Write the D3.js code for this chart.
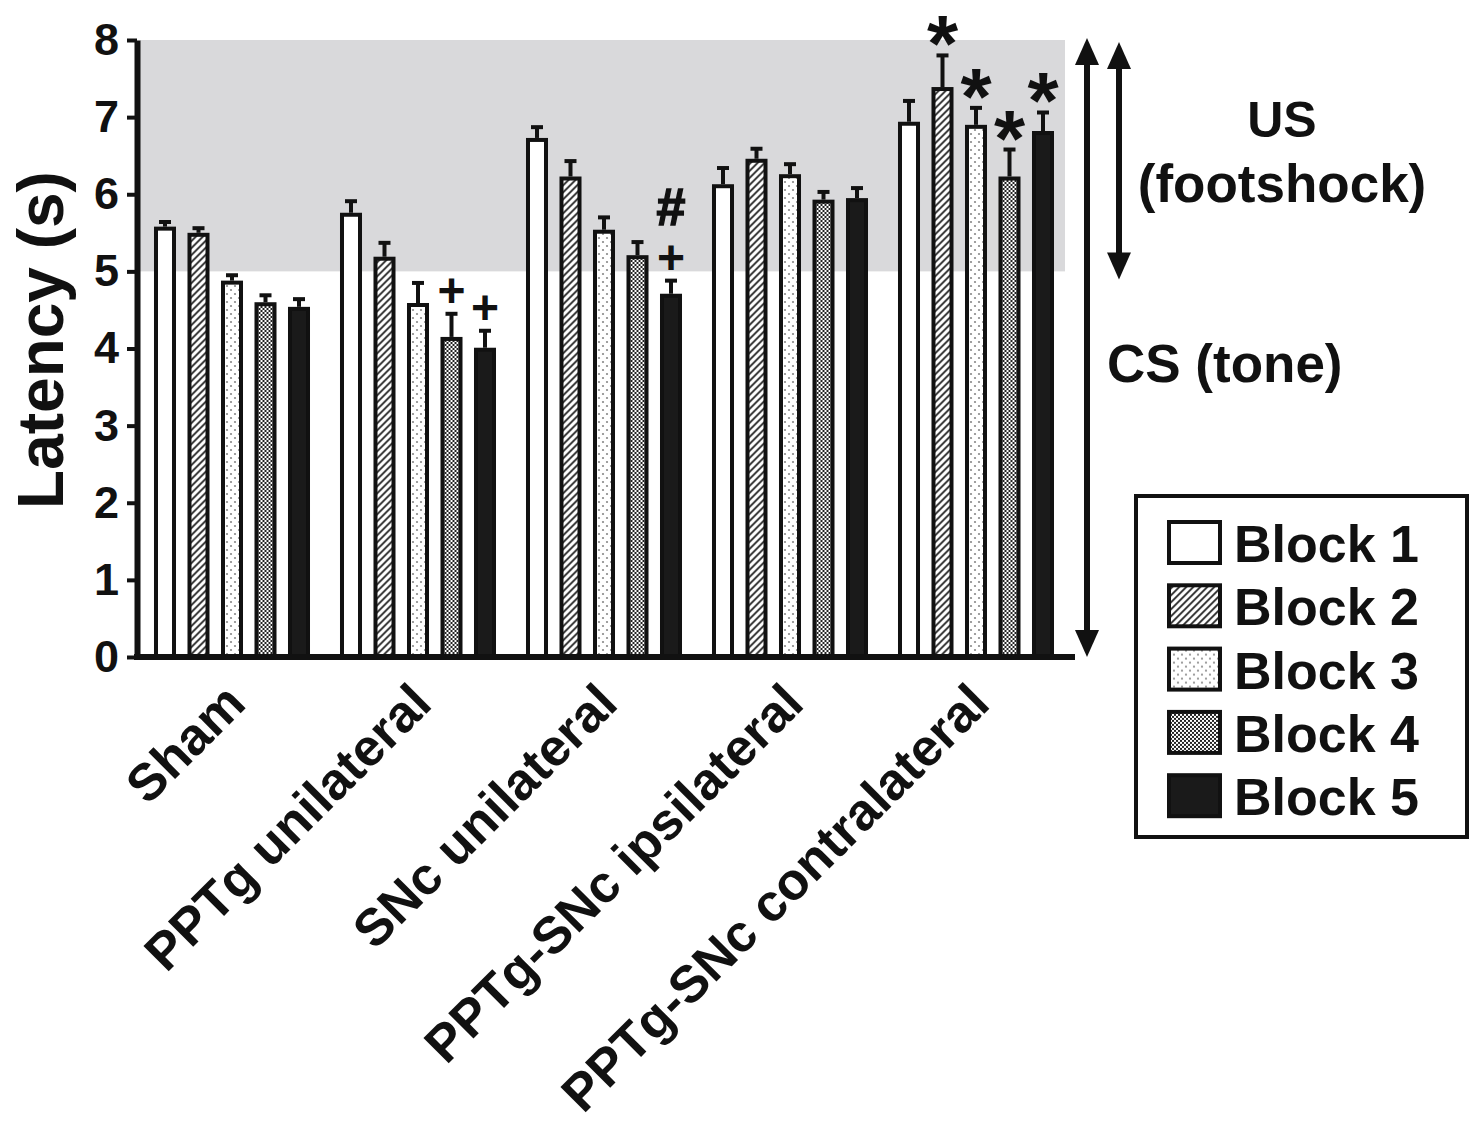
<!DOCTYPE html>
<html>
<head>
<meta charset="utf-8">
<script src="https://cdn.jsdelivr.net/npm/d3@7"></script>
<style>
  body { margin: 0; background: #fff; }
  svg text { font-family: "Liberation Sans", Arial, sans-serif; font-weight: bold; fill: #111; }
</style>
</head>
<body>
<div id="chart"></div>
<script>
// groups and blocks
let groups = ["Sham", "PPTg unilateral", "SNc unilateral", "PPTg-SNc ipsilateral", "PPTg-SNc contralateral"]
let blocks = ["Block 1", "Block 2", "Block 3", "Block 4", "Block 5"]

// mean latency (s) per block, one array per group
let meanSham   = [5.58, 5.50, 4.88, 4.60, 4.54]
let meanPPTg   = [5.76, 5.19, 4.59, 4.15, 4.01]
let meanSNc    = [6.73, 6.23, 5.54, 5.21, 4.71]
let meanIpsi   = [6.13, 6.46, 6.26, 5.93, 5.95]
let meanContra = [6.94, 7.39, 6.90, 6.23, 6.82]

// error (upper whisker)
let errSham   = [0.06, 0.06, 0.07, 0.09, 0.10]
let errPPTg   = [0.15, 0.18, 0.26, 0.30, 0.22]
let errSNc    = [0.14, 0.20, 0.16, 0.17, 0.17]
let errIpsi   = [0.21, 0.13, 0.13, 0.10, 0.13]
let errContra = [0.27, 0.41, 0.22, 0.35, 0.24]

let yTicks = [0, 1, 2, 3, 4, 5, 6, 7, 8]

// significance marks: [group index, block index, symbol, stack level]
let sigMarks = [
  [1, 3, "+", 0], [1, 4, "+", 0],
  [2, 4, "+", 0], [2, 4, "#", 1],
  [4, 1, "*", 0], [4, 2, "*", 0], [4, 3, "*", 0], [4, 4, "*", 0]
]

let means = [meanSham, meanPPTg, meanSNc, meanIpsi, meanContra]
let errs = [errSham, errPPTg, errSNc, errIpsi, errContra]

let rows = []
groups.forEach((g, gi) => {
  blocks.forEach((b, bi) => {
    rows.push({group: g, block: b, bi: bi, value: means[gi][bi], err: errs[gi][bi]})
  })
})

let width = 1471, height = 1125

let svg = d3.select("#chart").append("svg")
    .attr("width", width)
    .attr("height", height)

let y = d3.scaleLinear().domain([0, 8]).range([657, 40])
let x0 = d3.scaleBand().domain(groups).range([139, 1069]).padding(0)
let x1 = d3.scaleBand().domain(blocks).range([9.25, 176.75]).paddingInner(0.343).paddingOuter(0.1715)

// patterns
let defs = svg.append("defs")

let hatch = defs.append("pattern").attr("id", "p2")
    .attr("patternUnits", "userSpaceOnUse").attr("width", 7).attr("height", 7)
hatch.append("rect").attr("width", 7).attr("height", 7).attr("fill", "#fff")
hatch.append("path").attr("d", "M0,7 L7,0 M-2,2 L2,-2 M5,9 L9,5")
    .attr("stroke", "#222").attr("stroke-width", 1.8)

let dots = defs.append("pattern").attr("id", "p3")
    .attr("patternUnits", "userSpaceOnUse").attr("width", 8).attr("height", 8)
dots.append("rect").attr("width", 8).attr("height", 8).attr("fill", "#fff")
dots.append("circle").attr("cx", 2).attr("cy", 2).attr("r", 1.1).attr("fill", "#888")
dots.append("circle").attr("cx", 6).attr("cy", 6).attr("r", 1.1).attr("fill", "#888")

let check = defs.append("pattern").attr("id", "p4")
    .attr("patternUnits", "userSpaceOnUse").attr("width", 4).attr("height", 4)
check.append("rect").attr("width", 4).attr("height", 4).attr("fill", "#fff")
check.append("rect").attr("width", 2).attr("height", 2).attr("fill", "#222")
check.append("rect").attr("x", 2).attr("y", 2).attr("width", 2).attr("height", 2).attr("fill", "#222")

let fills = ["#fff", "url(#p2)", "url(#p3)", "url(#p4)", "#1a1a1a"]
let fill = d3.scaleOrdinal().domain(blocks).range(fills)

// grey US band 5-8 s
svg.append("rect")
    .attr("x", 140)
    .attr("y", y(8))
    .attr("width", 1065 - 140)
    .attr("height", y(5) - y(8))
    .attr("fill", "#d9d9db")

// bars
let bars = svg.append("g")
    .selectAll("g")
    .data(rows)
    .enter().append("g")
    .attr("transform", d => `translate(${x0(d.group) + x1(d.block)},0)`)

bars.append("rect")
    .attr("x", 2)
    .attr("y", d => y(d.value) + 2)
    .attr("width", x1.bandwidth() - 4)
    .attr("height", d => y(0) - y(d.value) - 2)
    .attr("fill", d => fill(d.block))
    .attr("stroke", "#111")
    .attr("stroke-width", 4)

// error whiskers
let cx = x1.bandwidth() / 2
bars.append("line")
    .attr("x1", cx).attr("x2", cx)
    .attr("y1", d => y(d.value))
    .attr("y2", d => y(d.value + d.err))
    .attr("stroke", "#111").attr("stroke-width", 4)
bars.append("line")
    .attr("x1", cx - 6).attr("x2", cx + 6)
    .attr("y1", d => y(d.value + d.err))
    .attr("y2", d => y(d.value + d.err))
    .attr("stroke", "#111").attr("stroke-width", 4)

// significance symbols
let symSize = {"+": 48, "#": 52, "*": 80}
let symLift = {"+": 7, "#": 0, "*": 0}
svg.append("g")
    .selectAll("text")
    .data(sigMarks)
    .enter().append("text")
    .attr("text-anchor", "middle")
    .attr("font-size", d => symSize[d[2]])
    .attr("stroke", d => d[2] == "#" ? "#111" : "none")
    .attr("stroke-width", 1.5)
    .attr("x", d => x0(groups[d[0]]) + x1(blocks[d[1]]) + cx)
    .attr("y", d => {
      let top = y(means[d[0]][d[1]] + errs[d[0]][d[1]])
      return top - symLift[d[2]] - d[3] * 56 + (d[2] == "*" ? 16 : 0)
    })
    .text(d => d[2])

// y axis
let yAxis = svg.append("g")
    .attr("transform", "translate(137,0)")
    .call(d3.axisLeft(y).tickValues(yTicks).tickFormat(d3.format("d")).tickSize(10).tickSizeOuter(0).tickPadding(8))
yAxis.select(".domain").attr("stroke", "#111").attr("stroke-width", 6)
yAxis.selectAll(".tick line").attr("stroke", "#111").attr("stroke-width", 4)
yAxis.selectAll(".tick text")
    .attr("font-size", 45)
    .attr("font-family", "Liberation Sans, Arial, sans-serif")
    .attr("font-weight", "bold")
    .attr("fill", "#111")

// x baseline
svg.append("line")
    .attr("x1", 134).attr("x2", 1075)
    .attr("y1", y(0)).attr("y2", y(0))
    .attr("stroke", "#111").attr("stroke-width", 6)

// group labels
svg.append("g")
    .selectAll("text")
    .data(groups)
    .enter().append("text")
    .attr("text-anchor", "end")
    .attr("font-size", 52)
    .attr("transform", d => `translate(${x0(d) + x0.bandwidth() / 2 + 16},706) rotate(-45)`)
    .text(d => d)

// y title
svg.append("text")
    .attr("text-anchor", "middle")
    .attr("font-size", 64)
    .attr("transform", "translate(63,340) rotate(-90)")
    .text("Latency (s)")

// CS / US arrows
function vArrow(xp, yTop, yBot) {
  let g = svg.append("g")
  g.append("line")
    .attr("x1", xp).attr("x2", xp)
    .attr("y1", yTop + 20).attr("y2", yBot - 20)
    .attr("stroke", "#111").attr("stroke-width", 6)
  g.append("path")
    .attr("d", `M${xp},${yTop} L${xp - 12},${yTop + 27} L${xp + 12},${yTop + 27} Z`)
    .attr("fill", "#111")
  g.append("path")
    .attr("d", `M${xp},${yBot} L${xp - 12},${yBot - 27} L${xp + 12},${yBot - 27} Z`)
    .attr("fill", "#111")
}
vArrow(1087, y(8) - 2, y(0))
vArrow(1119, y(8) + 2, y(5) + 8)

svg.append("text").attr("x", 1282).attr("y", 137).attr("text-anchor", "middle")
    .attr("font-size", 50).text("US")
svg.append("text").attr("x", 1282).attr("y", 202).attr("text-anchor", "middle")
    .attr("font-size", 53).text("(footshock)")
svg.append("text").attr("x", 1107).attr("y", 382)
    .attr("font-size", 53).text("CS (tone)")

// legend
svg.append("rect")
    .attr("x", 1136).attr("y", 496)
    .attr("width", 331).attr("height", 341)
    .attr("fill", "#fff").attr("stroke", "#111").attr("stroke-width", 4)

let leg = svg.append("g")
    .selectAll("g")
    .data(blocks)
    .enter().append("g")
    .attr("transform", (d, i) => `translate(0,${562 + i * 63.3})`)

leg.append("rect")
    .attr("x", 1169).attr("y", -40)
    .attr("width", 51).attr("height", 41)
    .attr("fill", d => fill(d))
    .attr("stroke", "#111").attr("stroke-width", 4)

leg.append("text")
    .attr("x", 1234).attr("y", 0)
    .attr("font-size", 52)
    .text(d => d)
</script>
</body>
</html>
